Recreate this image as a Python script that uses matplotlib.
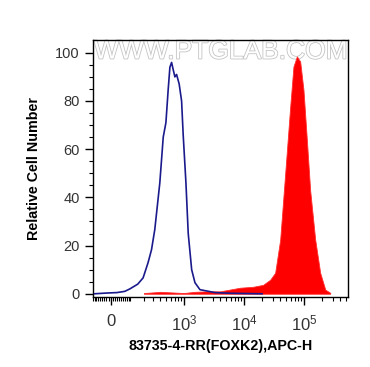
import matplotlib
matplotlib.use('Agg')
import matplotlib.pyplot as plt
import matplotlib.patheffects as pe
import numpy as np

plt.rcParams['font.family'] = ['Liberation Sans', 'DejaVu Sans']
plt.rcParams['mathtext.fontset'] = 'custom'
plt.rcParams['mathtext.rm'] = 'Liberation Sans'
plt.rcParams['mathtext.it'] = 'Liberation Sans'

# isotype control (blue line)
ctrl_x = [-80, -19, 30, 69, 97, 150, 193, 240, 278, 318, 390, 447, 497, 543, 581,
          621, 661, 706, 754, 834, 915, 973, 1082, 1182, 1349, 1531, 1855, 3300, 6000, 20000]
ctrl_y = [0, 0.3, 0.5, 1, 2, 4, 6.6, 12.9, 18.3, 26.6, 46, 65, 71, 84.6, 94,
          96, 93, 90, 91, 87, 80, 66, 46, 25, 10, 4.6, 1.7, 0.5, 0.2, 0]

# FOXK2 stained (red fill)
foxk2_x = [200, 400, 700, 1000, 1500, 2500, 4000, 8600, 14200, 20800, 27200, 33000,
           40000, 48500, 58700, 66500, 75800, 86000, 97600, 111000, 126000, 153000,
           185000, 225000, 272000]
foxk2_y = [0.3, 0.8, 0.5, 0.3, 0.8, 1.0, 1.0, 2.5, 2.9, 3.7, 5.8, 8.7,
           22.4, 50, 77.6, 94.3, 98.5, 96.4, 84.6, 64, 43, 22.4,
           8.7, 1.7, 0.4]

major_ticks = [0, 1e3, 1e4, 1e5]
major_labels = ['0', '$10^3$', '$10^4$', '$10^5$']

fig = plt.figure(figsize=(3.7, 3.67), dpi=100)
ax = fig.add_axes([0.251, 0.191, 0.690, 0.700])

ax.fill_between(foxk2_x, foxk2_y, 0, color='#ff0000', lw=0.6, edgecolor='#ff3030', zorder=2)
ax.plot(ctrl_x, ctrl_y, color='#1a1a8c', lw=1.2, zorder=3)

ax.set_xscale('asinh', linear_width=122)
ax.set_xlim(-90, 5.4e5)
ax.set_ylim(-1.3, 105.3)

ax.set_xticks(major_ticks)
ax.set_xticklabels(major_labels)
minor = []
for d in [10, 100, 1000, 10000, 100000]:
    minor += [k * d for k in range(1, 10)]
minor += [-k * 10 for k in range(1, 10)]
minor = [m for m in minor if m not in major_ticks and m < 5.4e5]
ax.set_xticks(minor, minor=True)

ax.set_yticks(np.arange(0, 101, 20))
ax.set_yticks(np.arange(0, 105, 5), minor=True)

ax.tick_params(axis='both', which='major', length=6, width=1, labelsize=10.5,
               labelcolor='#333333', direction='out')
ax.tick_params(axis='both', which='minor', length=3, width=0.8, direction='out')
ax.tick_params(axis='x', which='major', pad=6, labelsize=12)

for s in ax.spines.values():
    s.set_linewidth(1)
    s.set_color('black')

ax.set_xlabel('83735-4-RR(FOXK2),APC-H', fontsize=10.3, fontweight='bold', labelpad=4)
ax.set_ylabel('Relative Cell Number', fontsize=10.3, fontweight='bold', labelpad=10)

ax.text(0.5, 0.955, 'WWW.PTGLAB.COM', transform=ax.transAxes, ha='center', va='center',
        fontsize=19, color='white', zorder=1,
        path_effects=[pe.withStroke(linewidth=1.2, foreground='#c4c4c4')])

fig.savefig('out.png', dpi=100)
